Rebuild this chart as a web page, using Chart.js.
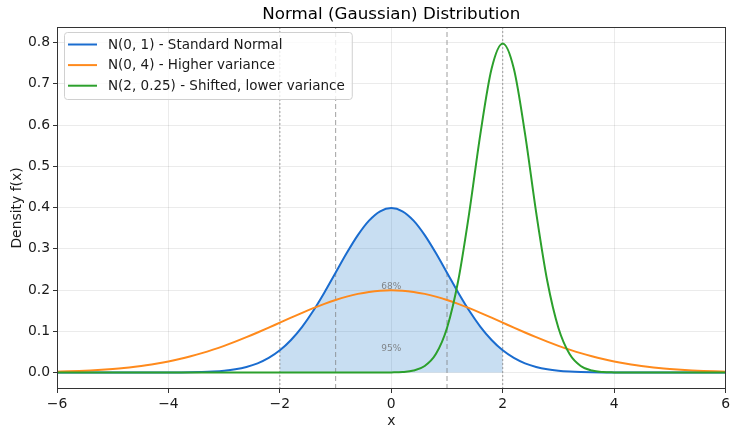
<!DOCTYPE html>
<html><head><meta charset="utf-8">
<script src="https://cdn.jsdelivr.net/npm/chart.js@4"></script>
<style>html,body{margin:0;padding:0;background:#fff}</style>
</head><body>
<canvas id="c" width="733" height="428" style="width:733px;height:428px;display:block"></canvas>
<script>
// ---- data ----
const xValues = [-6,-5.8,-5.6,-5.4,-5.2,-5,-4.8,-4.6,-4.4,-4.2,-4,-3.8,-3.6,-3.4,-3.2,-3,-2.8,-2.6,-2.4,-2.2,-2,-1.8,-1.6,-1.4,-1.2,-1,-0.8,-0.6,-0.4,-0.2,0,0.2,0.4,0.6,0.8,1,1.2,1.4,1.6,1.8,2,2.2,2.4,2.6,2.8,3,3.2,3.4,3.6,3.8,4,4.2,4.4,4.6,4.8,5,5.2,5.4,5.6,5.8,6];
const standardNormal = [0,0,0,0,0,0,0,0,0,0.0001,0.0001,0.0003,0.0006,0.0012,0.0024,0.0044,0.0079,0.0136,0.0224,0.0355,0.0540,0.0790,0.1109,0.1497,0.1942,0.2420,0.2897,0.3332,0.3683,0.3910,0.3989,0.3910,0.3683,0.3332,0.2897,0.2420,0.1942,0.1497,0.1109,0.0790,0.0540,0.0355,0.0224,0.0136,0.0079,0.0044,0.0024,0.0012,0.0006,0.0003,0.0001,0.0001,0,0,0,0,0,0,0,0,0];
const wideNormal = [0.0022,0.0030,0.0040,0.0052,0.0068,0.0088,0.0112,0.0142,0.0177,0.0220,0.0270,0.0328,0.0395,0.0470,0.0555,0.0648,0.0749,0.0857,0.0971,0.1089,0.1210,0.1330,0.1448,0.1561,0.1666,0.1760,0.1841,0.1907,0.1955,0.1985,0.1995,0.1985,0.1955,0.1907,0.1841,0.1760,0.1666,0.1561,0.1448,0.1330,0.1210,0.1089,0.0971,0.0857,0.0749,0.0648,0.0555,0.0470,0.0395,0.0328,0.0270,0.0220,0.0177,0.0142,0.0112,0.0088,0.0068,0.0052,0.0040,0.0030,0.0022];
const shiftedNormal = [0,0,0,0,0,0,0,0,0,0,0,0,0,0,0,0,0,0,0,0,0,0,0,0,0,0,0,0,0,0,0.0003,0.0012,0.0048,0.0158,0.0448,0.1080,0.2218,0.3884,0.5794,0.7366,0.7979,0.7366,0.5794,0.3884,0.2218,0.1080,0.0448,0.0158,0.0048,0.0012,0.0003,0,0,0,0,0,0,0,0,0,0];
const seriesLabels = ['N(0, 1) - Standard Normal','N(0, 4) - Higher variance','N(2, 0.25) - Shifted, lower variance'];
const fillRange = [-2, 2];
const lines68 = [-1, 1];
const lines95 = [-2, 2];
const annotationTexts = ['68%','95%'];
const annotationX = [0, 0];
const annotationY = [0.2, 0.05];
const xTicks = [-6,-4,-2,0,2,4,6];
const yTicks = [0,0.1,0.2,0.3,0.4,0.5,0.6,0.7,0.8];
const xRange = [-6, 6];
const yRange = [-0.0399, 0.8378];
const chartTitle = 'Normal (Gaussian) Distribution';
const xTitle = 'x';
const yTitle = 'Density f(x)';

// ---- styles ----
const colors = ['#1a6ccf', '#ff8a1c', '#2ca02c'];
const FONT = "'DejaVu Sans', sans-serif";
const BASE = 13.9;
const LEGEND_SIZE = 13.5;
Chart.defaults.font.family = FONT;
Chart.defaults.color = '#1a1a1a';

const pts = ys => xValues.map((x, i) => ({x, y: ys[i]}));
const fillPts = xValues.map((x, i) => ({x, y: standardNormal[i]})).filter(p => p.x >= fillRange[0] - 1e-9 && p.x <= fillRange[1] + 1e-9);
const vline = (v, dash, color, width) => ({
  label: '_v', data: [{x: v, y: yRange[0]}, {x: v, y: yRange[1]}],
  borderColor: color, borderWidth: width, borderDash: dash, pointRadius: 0, fill: false, order: 20, tension: 0
});

const datasets = [
  {label: '_fill', data: fillPts, borderWidth: 0, borderColor: 'rgba(0,0,0,0)', backgroundColor: 'rgba(35,123,203,0.25)', fill: 'origin', pointRadius: 0, cubicInterpolationMode: 'monotone', order: 30},
  ...lines95.map(v => vline(v, [2, 2], 'rgba(120,120,120,0.7)', 1)),
  ...lines68.map(v => vline(v, [5, 3], 'rgba(120,120,120,0.6)', 1.2)),
  {label: seriesLabels[0], data: pts(standardNormal), borderColor: colors[0], borderWidth: 2, pointRadius: 0, fill: false, cubicInterpolationMode: 'monotone', order: 3},
  {label: seriesLabels[1], data: pts(wideNormal), borderColor: colors[1], borderWidth: 2, pointRadius: 0, fill: false, cubicInterpolationMode: 'monotone', order: 2},
  {label: seriesLabels[2], data: pts(shiftedNormal), borderColor: colors[2], borderWidth: 2, pointRadius: 0, fill: false, cubicInterpolationMode: 'monotone', order: 1}
];

const decor = {
  id: 'decor',
  afterDatasetsDraw(chart) {
    const {ctx, chartArea: a, scales} = chart;
    ctx.save();
    // annotations
    ctx.font = "9px " + FONT;
    ctx.fillStyle = 'rgba(110,110,110,0.8)';
    ctx.textAlign = 'center';
    ctx.textBaseline = 'bottom';
    annotationTexts.forEach((t, i) => {
      ctx.fillText(t, scales.x.getPixelForValue(annotationX[i]), scales.y.getPixelForValue(annotationY[i]) + 1);
    });
    // frame
    ctx.strokeStyle = '#333';
    ctx.lineWidth = 1;
    ctx.strokeRect(Math.round(a.left) + 0.5, Math.round(a.top) + 0.5, Math.round(a.right - a.left) - 1, Math.round(a.bottom - a.top) - 1);
    ctx.restore();
  },
  afterDraw(chart) {
    const {ctx, chartArea: a} = chart;
    ctx.save();
    // title
    ctx.font = "16.7px " + FONT;
    ctx.fillStyle = '#000';
    ctx.textAlign = 'center';
    ctx.textBaseline = 'middle';
    ctx.fillText(chartTitle, (a.left + a.right) / 2, 15);
    // legend
    const items = chart.data.datasets.filter(d => !d.label.startsWith('_'));
    ctx.font = LEGEND_SIZE + "px " + FONT;
    const maxW = Math.max(...items.map(d => ctx.measureText(d.label).width));
    const bx = a.left + 7, by = a.top + 5;
    const textX = bx + 44;
    const bw = textX - bx + maxW + 7, bh = 67;
    ctx.beginPath();
    ctx.roundRect(bx + 0.5, by + 0.5, bw, bh, 3);
    ctx.fillStyle = 'rgba(255,255,255,0.8)';
    ctx.fill();
    ctx.strokeStyle = '#d0d0d0';
    ctx.lineWidth = 1;
    ctx.stroke();
    items.forEach((d, i) => {
      const y = by + 12.5 + i * 20.6;
      ctx.beginPath();
      ctx.moveTo(bx + 4, y);
      ctx.lineTo(bx + 33, y);
      ctx.strokeStyle = d.borderColor;
      ctx.lineWidth = 2;
      ctx.stroke();
      ctx.fillStyle = '#1a1a1a';
      ctx.textAlign = 'left';
      ctx.textBaseline = 'middle';
      ctx.fillText(d.label, textX, y + 0.5);
    });
    ctx.restore();
  }
};

new Chart(document.getElementById('c'), {
  type: 'line',
  data: {datasets},
  plugins: [decor],
  options: {
    responsive: false,
    devicePixelRatio: 1,
    animation: false,
    layout: {padding: {top: 27, right: 6, left: 0, bottom: 0}},
    plugins: {legend: {display: false}, title: {display: false}, tooltip: {enabled: false}},
    scales: {
      x: {
        type: 'linear', min: xRange[0], max: xRange[1],
        afterBuildTicks: s => { s.ticks = xTicks.map(v => ({value: v})); },
        afterFit: s => { s.height = 39; },
        ticks: {font: {size: BASE}, color: '#1a1a1a', padding: 3, maxRotation: 0,
          callback: v => v < 0 ? '\u2212' + Math.abs(v) : String(v)},
        grid: {color: 'rgba(0,0,0,0.08)', tickColor: '#333', tickLength: 4, lineWidth: 1},
        border: {display: false},
        title: {display: true, text: xTitle, font: {size: BASE}, color: '#1a1a1a', padding: {top: 0, bottom: -2}}
      },
      y: {
        type: 'linear', min: yRange[0], max: yRange[1],
        afterBuildTicks: s => { s.ticks = yTicks.map(v => ({value: v})); },
        afterFit: s => { s.width = 57; },
        ticks: {font: {size: BASE}, color: '#1a1a1a', padding: 3, callback: v => v.toFixed(1)},
        grid: {color: 'rgba(0,0,0,0.08)', tickColor: '#333', tickLength: 4, lineWidth: 1},
        border: {display: false},
        title: {display: true, text: yTitle, font: {size: BASE}, color: '#1a1a1a', padding: {top: 9, bottom: 0}}
      }
    }
  }
});
</script>
</body></html>
